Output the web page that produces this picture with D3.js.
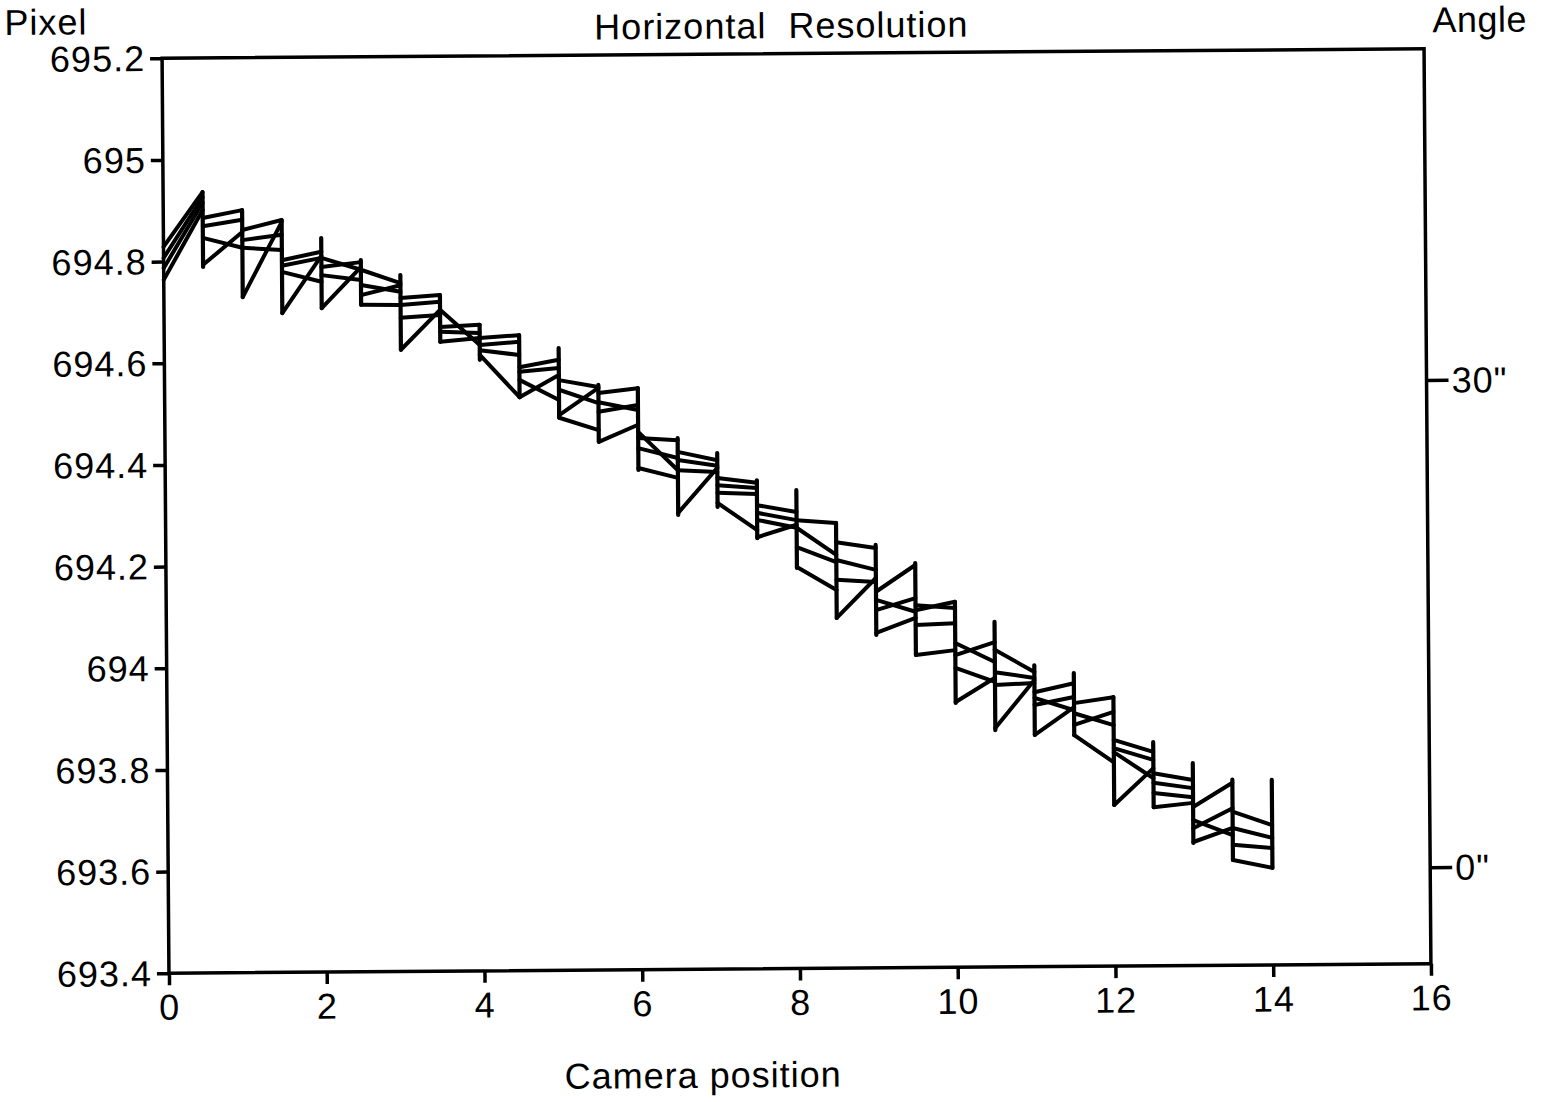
<!DOCTYPE html>
<html><head><meta charset="utf-8">
<script src="https://cdn.jsdelivr.net/npm/d3@7"></script>
<style>
body{margin:0;background:#fff;}
svg{display:block;}
text{font-family:"Liberation Sans",Arial,Helvetica,sans-serif;fill:#000;}
</style>
</head><body>
<svg id="chart" width="1549" height="1102"></svg>
<script>
// ---- data ----
const positions = [0,0.5,1,1.5,2,2.5,3,3.5,4,4.5,5,5.5,6,6.5,7,7.5,8,8.5,9,9.5,10,10.5,11,11.5,12,12.5,13,13.5,14];
const xTicks = [0,2,4,6,8,10,12,14,16];
const yTicks = [693.4,693.6,693.8,694,694.2,694.4,694.6,694.8,695,695.2];
const yTickLabels = ["693.4","693.6","693.8","694","694.2","694.4","694.6","694.8","695","695.2"];
const angleTicks = [0,30];
const angleTickLabels = ['0"','30"'];

// vertical strokes at positions 0.5 ... 14
const vTop = [694.936,694.900,694.880,694.844,694.800,694.770,694.730,694.671,694.650,694.624,694.551,694.544,694.445,694.415,694.361,694.341,694.276,694.232,694.196,694.119,694.079,693.993,693.977,693.929,693.840,693.798,693.765,693.764];
const vBot = [694.789,694.729,694.697,694.706,694.712,694.623,694.638,694.602,694.528,694.487,694.439,694.383,694.294,694.309,694.247,694.188,694.089,694.055,694.015,693.920,693.866,693.856,693.855,693.717,693.712,693.641,693.607,693.591];

// four traces, value at left and right end of each half-unit step
const s1L = [694.829,694.885,694.861,694.801,694.805,694.781,694.725,694.701,694.645,694.587,694.561,694.535,694.458,694.418,694.366,694.312,694.282,694.238,694.140,694.113,694.038,694.024,693.940,693.918,693.845,693.779,693.712,693.702];
const s1R = [694.936,694.900,694.880,694.817,694.781,694.754,694.730,694.631,694.650,694.601,694.547,694.544,694.382,694.401,694.356,694.298,694.276,694.226,694.192,694.107,694.000,693.980,693.957,693.929,693.821,693.765,693.759,693.675];
const s2L = [694.807,694.869,694.841,694.790,694.787,694.751,694.711,694.667,694.631,694.578,694.542,694.517,694.446,694.402,694.352,694.297,694.267,694.203,694.124,694.103,694.014,693.980,693.929,693.898,693.829,693.760,693.686,693.670];
const s2R = [694.926,694.881,694.851,694.805,694.796,694.737,694.717,694.671,694.637,694.585,694.515,694.501,694.441,694.390,694.346,694.282,694.213,694.183,694.100,694.119,694.039,693.968,693.904,693.874,693.805,693.749,693.656,693.650];
const s3L = [694.787,694.846,694.826,694.778,694.771,694.731,694.686,694.658,694.621,694.562,694.492,694.498,694.426,694.382,694.337,694.283,694.229,694.164,694.104,694.074,693.989,693.955,693.915,693.875,693.821,693.740,693.670,693.637];
const s3R = [694.915,694.826,694.821,694.758,694.761,694.750,694.691,694.655,694.611,694.522,694.545,694.511,694.406,694.378,694.334,694.267,694.199,694.159,694.127,694.077,693.961,693.958,693.930,693.900,693.769,693.731,693.709,693.630];
const s4L = [694.764,694.793,694.729,694.697,694.706,694.712,694.623,694.638,694.612,694.528,694.487,694.439,694.387,694.298,694.317,694.249,694.190,694.089,694.059,694.015,693.922,693.870,693.856,693.855,693.717,693.712,693.643,693.607];
const s4R = [694.901,694.857,694.876,694.809,694.786,694.711,694.701,694.645,694.528,694.571,694.462,694.472,694.367,694.386,694.263,694.273,694.144,694.167,694.088,694.024,693.969,693.964,693.910,693.801,693.789,693.720,693.670,693.591];

// ---- layout ----
const L = 165.5, R = 1427.5, T = 53.5, B = 968.5;
const svg = d3.select("#chart");
const g = svg.append("g").attr("transform", "rotate(-0.43,796.5,511)");

const x = d3.scaleLinear().domain([0,16]).range([L,R]);
const y = d3.scaleLinear().domain([693.4,695.2]).range([B,T]);
const ang = d3.scaleLinear().domain([-5.95,50.4]).range([B,T]);

const FS = 36;

// frame
g.append("rect").attr("x",L).attr("y",T).attr("width",R-L).attr("height",B-T)
  .attr("fill","none").attr("stroke","#000").attr("stroke-width",3.5);

function styleAxis(sel){
  sel.select(".domain").remove();
  sel.selectAll(".tick line").attr("stroke","#000").attr("stroke-width",3.5);
  sel.selectAll(".tick text").attr("font-size",FS).attr("letter-spacing",1)
     .attr("font-family",'"Liberation Sans",Arial,sans-serif').attr("fill","#000");
}

const yAxis = g.append("g").attr("transform",`translate(${L},0)`)
  .call(d3.axisLeft(y).tickValues(yTicks).tickFormat((d,i)=>yTickLabels[i]).tickSize(12).tickPadding(5));
styleAxis(yAxis);
yAxis.selectAll(".tick text").attr("dy","0.34em");

const xAxis = g.append("g").attr("transform",`translate(0,${B})`)
  .call(d3.axisBottom(x).tickValues(xTicks).tickFormat(d3.format("d")).tickSize(12).tickPadding(9));
styleAxis(xAxis);

const rAxis = g.append("g").attr("transform",`translate(${R},0)`)
  .call(d3.axisRight(ang).tickValues(angleTicks).tickFormat((d,i)=>angleTickLabels[i]).tickSize(22).tickPadding(3));
styleAxis(rAxis);
rAxis.selectAll(".tick text").attr("dy","0.34em");

// titles
g.append("text").attr("x",8).attr("y",29).attr("font-size",FS).attr("letter-spacing",1).text("Pixel");
g.append("text").attr("x",1436).attr("y",37).attr("font-size",FS).attr("letter-spacing",0.5).text("Angle");
g.append("text").attr("x",785).attr("y",38).attr("text-anchor","middle").attr("font-size",FS)
  .attr("letter-spacing",1).attr("xml:space","preserve").style("white-space","pre").text("Horizontal  Resolution");
g.append("text").attr("x",699).attr("y",1087).attr("text-anchor","middle").attr("font-size",FS)
  .attr("letter-spacing",1).text("Camera position");

// data
const plot = g.append("g").attr("fill","none").attr("stroke","#000")
  .attr("stroke-width",4).attr("stroke-linecap","round").attr("stroke-linejoin","round");
const line = d3.line().x(d=>x(d[0])).y(d=>y(d[1]));

const series = [[s1L,s1R],[s2L,s2R],[s3L,s3R],[s4L,s4R]];
series.forEach(([sl,sr])=>{
  for(let i=0;i<sl.length;i++){
    plot.append("path").attr("d", line([[positions[i],sl[i]],[positions[i+1],sr[i]]]));
  }
});
for(let k=0;k<vTop.length;k++){
  const p = positions[k+1];
  plot.append("path").attr("d", line([[p,vTop[k]],[p,vBot[k]]])).attr("stroke-width",4.2);
}
</script>
</body></html>
